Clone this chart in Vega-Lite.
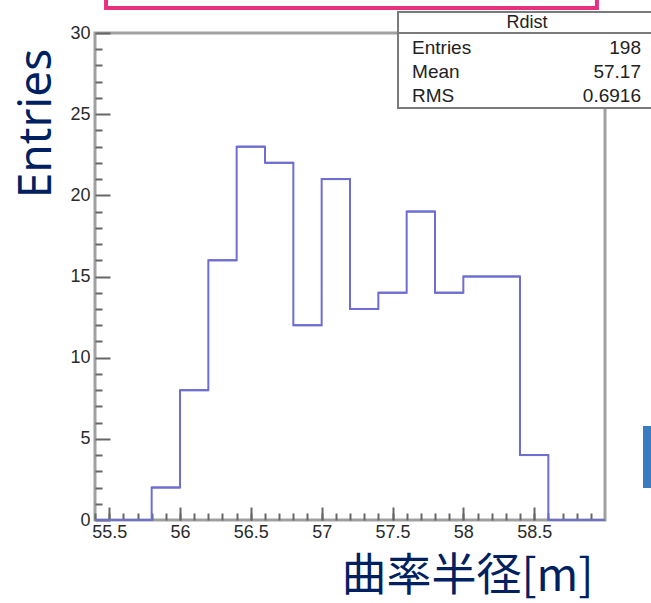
{
  "$schema": "https://vega.github.io/schema/vega-lite/v6.json",
  "width": 510,
  "height": 487,
  "autosize": {"type": "none"},
  "padding": {"left": 95, "top": 33, "right": 46, "bottom": 83},
  "background": "white",
  "config": {
    "view": {"stroke": "#a0a0a0", "strokeWidth": 3},
    "axis": {"grid": false, "domain": false}
  },
  "data": {
    "values": [
      {"bin_start": 55.4, "bin_end": 55.6, "count": 0},
      {"bin_start": 55.6, "bin_end": 55.8, "count": 0},
      {"bin_start": 55.8, "bin_end": 56.0, "count": 2},
      {"bin_start": 56.0, "bin_end": 56.2, "count": 8},
      {"bin_start": 56.2, "bin_end": 56.4, "count": 16},
      {"bin_start": 56.4, "bin_end": 56.6, "count": 23},
      {"bin_start": 56.6, "bin_end": 56.8, "count": 22},
      {"bin_start": 56.8, "bin_end": 57.0, "count": 12},
      {"bin_start": 57.0, "bin_end": 57.2, "count": 21},
      {"bin_start": 57.2, "bin_end": 57.4, "count": 13},
      {"bin_start": 57.4, "bin_end": 57.6, "count": 14},
      {"bin_start": 57.6, "bin_end": 57.8, "count": 19},
      {"bin_start": 57.8, "bin_end": 58.0, "count": 14},
      {"bin_start": 58.0, "bin_end": 58.2, "count": 15},
      {"bin_start": 58.2, "bin_end": 58.4, "count": 15},
      {"bin_start": 58.4, "bin_end": 58.6, "count": 4},
      {"bin_start": 58.6, "bin_end": 58.8, "count": 0},
      {"bin_start": 58.8, "bin_end": 59.0, "count": 0}
    ]
  },
  "resolve": {"axis": {"x": "independent", "y": "independent"}},
  "layer": [
    {
      "mark": {"type": "rule", "stroke": "#6e6ed2", "strokeWidth": 2},
      "encoding": {
        "x": {
          "field": "bin_start", "type": "quantitative",
          "scale": {"domain": [55.4, 59.0], "nice": false, "zero": false},
          "axis": {
            "orient": "bottom", "values": [55.5, 56, 56.5, 57, 57.5, 58, 58.5],
            "format": "~g", "ticks": false,
            "labelFont": "Liberation Sans", "labelFontSize": 18, "labelColor": "#2b2b2b",
            "labelPadding": 3, "labelFlush": false, "labelOverlap": false,
            "title": "曲率半径[m]", "titleFont": "Noto Sans CJK JP", "titleFontSize": 45,
            "titleFontWeight": "normal", "titleColor": "#002060",
            "titleX": 498, "titleY": 70, "titleAlign": "right", "titleBaseline": "alphabetic"
          }
        },
        "x2": {"field": "bin_end"},
        "y": {
          "field": "count", "type": "quantitative",
          "scale": {"domain": [0, 30], "nice": false},
          "axis": {
            "orient": "left", "values": [0, 5, 10, 15, 20, 25, 30],
            "format": "d", "ticks": false,
            "labelFont": "Liberation Sans", "labelFontSize": 18, "labelColor": "#2b2b2b",
            "labelPadding": 5, "labelFlush": false, "labelOverlap": false,
            "title": "Entries", "titleFont": "Noto Sans", "titleFontSize": 46,
            "titleFontWeight": "normal", "titleColor": "#002060", "titleAngle": 270,
            "titleX": -45, "titleY": 90, "titleAlign": "center", "titleBaseline": "alphabetic"
          }
        }
      }
    },
    {
      "mark": {"type": "line", "stroke": "#6e6ed2", "strokeWidth": 2, "interpolate": "step-after"},
      "encoding": {
        "x": {
          "field": "bin_start", "type": "quantitative",
          "axis": {
            "orient": "bottom", "values": [55.5, 56, 56.5, 57, 57.5, 58, 58.5],
            "labels": false, "title": null, "tickSize": -13, "tickColor": "#666666", "tickWidth": 2
          }
        },
        "y": {
          "field": "count", "type": "quantitative",
          "axis": {
            "orient": "left", "values": [0, 5, 10, 15, 20, 25, 30],
            "labels": false, "title": null, "tickSize": -15, "tickColor": "#666666", "tickWidth": 2
          }
        }
      }
    },
    {
      "data": {"values": [{}]},
      "mark": {"type": "rect", "fill": "white", "stroke": "#7a7a7a", "strokeWidth": 2},
      "encoding": {
        "x": {
          "datum": 57.539, "type": "quantitative",
          "axis": {
            "orient": "bottom",
            "values": [55.4, 55.5, 55.6, 55.7, 55.8, 55.9, 56.0, 56.1, 56.2, 56.3, 56.4, 56.5, 56.6, 56.7, 56.8, 56.9, 57.0, 57.1, 57.2, 57.3, 57.4, 57.5, 57.6, 57.7, 57.8, 57.9, 58.0, 58.1, 58.2, 58.3, 58.4, 58.5, 58.6, 58.7, 58.8, 58.9],
            "labels": false, "title": null, "tickSize": -7, "tickColor": "#666666", "tickWidth": 2
          }
        },
        "x2": {"datum": 59.45},
        "y": {
          "datum": 31.294, "type": "quantitative",
          "axis": {
            "orient": "left",
            "values": [1, 2, 3, 4, 6, 7, 8, 9, 11, 12, 13, 14, 16, 17, 18, 19, 21, 22, 23, 24, 26, 27, 28, 29],
            "labels": false, "title": null, "tickSize": -7, "tickColor": "#666666", "tickWidth": 2
          }
        },
        "y2": {"datum": 25.38}
      }
    },
    {
      "data": {"values": [{}]},
      "mark": {"type": "rule", "stroke": "#7a7a7a", "strokeWidth": 2},
      "encoding": {
        "x": {"datum": 57.539, "type": "quantitative", "axis": null},
        "x2": {"datum": 59.45},
        "y": {"datum": 30, "type": "quantitative", "axis": null}
      }
    },
    {
      "data": {"values": [{}]},
      "mark": {"type": "text", "font": "Liberation Sans", "fontSize": 18, "color": "#222222", "align": "center", "baseline": "middle"},
      "encoding": {
        "x": {"datum": 58.449, "type": "quantitative", "axis": null},
        "y": {"datum": 30.62, "type": "quantitative", "axis": null},
        "text": {"value": "Rdist"}
      }
    },
    {
      "data": {"values": [{}]},
      "mark": {"type": "text", "font": "Liberation Sans", "fontSize": 19, "color": "#222222", "align": "left", "baseline": "top", "lineHeight": 24},
      "encoding": {
        "x": {"datum": 57.638, "type": "quantitative", "axis": null},
        "y": {"datum": 29.63, "type": "quantitative", "axis": null},
        "text": {"value": ["Entries", "Mean", "RMS"]}
      }
    },
    {
      "data": {"values": [{}]},
      "mark": {"type": "text", "font": "Liberation Sans", "fontSize": 19, "color": "#222222", "align": "right", "baseline": "top", "lineHeight": 24},
      "encoding": {
        "x": {"datum": 59.254, "type": "quantitative", "axis": null},
        "y": {"datum": 29.63, "type": "quantitative", "axis": null},
        "text": {"value": ["198", "57.17", "0.6916"]}
      }
    },
    {
      "data": {"values": [{}]},
      "mark": {"type": "rect", "filled": false, "stroke": "#e6317f", "strokeWidth": 4},
      "encoding": {
        "x": {"datum": 55.478, "type": "quantitative", "axis": null},
        "x2": {"datum": 58.943},
        "y": {"datum": 31.54, "type": "quantitative", "axis": null},
        "y2": {"datum": 32.9}
      }
    },
    {
      "data": {"values": [{}]},
      "mark": {"type": "rect", "fill": "#3b7bbf"},
      "encoding": {
        "x": {"datum": 59.268, "type": "quantitative", "axis": null},
        "x2": {"datum": 59.45},
        "y": {"datum": 5.79, "type": "quantitative", "axis": null},
        "y2": {"datum": 1.97}
      }
    }
  ]
}
